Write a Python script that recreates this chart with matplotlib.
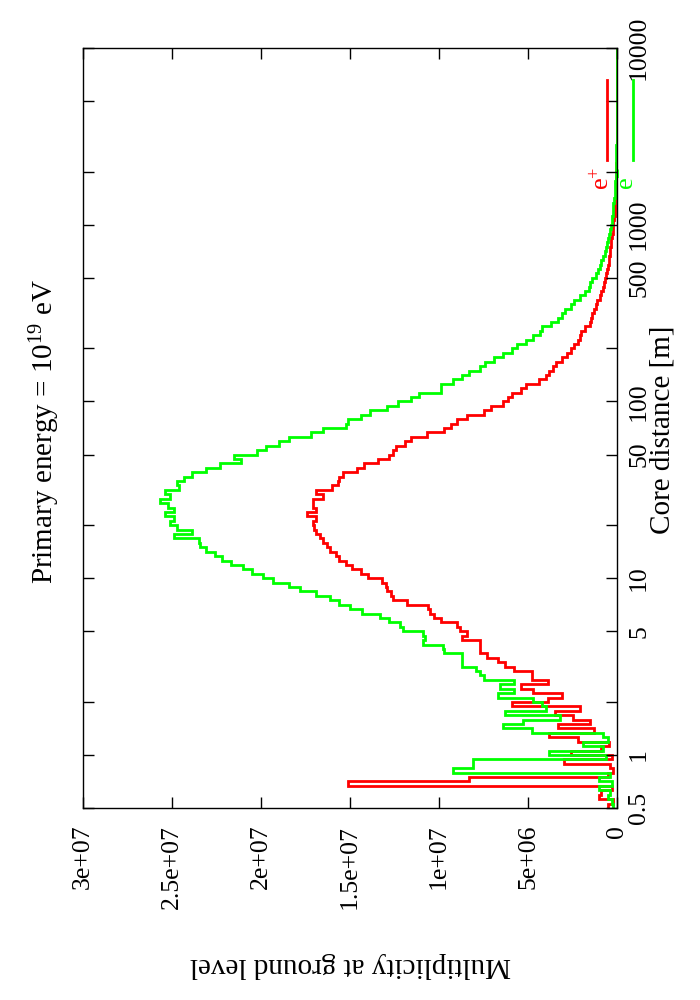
import numpy as np
import matplotlib
matplotlib.use("Agg")
import matplotlib.pyplot as plt
from matplotlib.ticker import NullLocator

plt.rcParams['font.family'] = ['Liberation Serif', 'DejaVu Serif']
plt.rcParams['mathtext.default'] = 'regular'

# ---------------- data ----------------
dist_min, dist_max = 0.5, 10000.0
unit = 1e6  # values below are in units of 1e6 particles

# e- (green), histogram per log-bin from 0.5 m to 10000 m
e_minus = [
    0.2, 0.3, 0.5, 0.4, 1.0, 0.3, 1.0, 0.4, 9.2, 8.1,
    8.1, 0.6, 3.8, 0.8, 1.9, 0.5, 0.8, 4.8, 6.4, 5.3,
    3.2, 6.3, 4.0, 4.2, 4.7, 6.7, 5.8, 6.6, 5.8, 7.5,
    7.7, 7.9, 8.7, 8.7, 8.7, 9.7, 9.8, 10.9, 10.8, 10.9,
    12.0, 12.2, 12.8, 13.3, 14.3, 15.0, 15.6, 16.1, 16.9, 17.8,
    18.4, 19.3, 19.9, 20.5, 21.0, 21.7, 22.2, 22.6, 23.1, 23.4,
    23.5, 24.9, 23.9, 24.7, 25.1, 24.9, 25.4, 24.9, 25.2, 25.7,
    25.1, 25.4, 24.6, 24.7, 24.3, 23.9, 23.1, 22.3, 21.1, 21.5,
    20.2, 19.7, 19.0, 18.4, 17.2, 16.5, 15.2, 15.1, 14.4, 13.9,
    12.9, 12.3, 11.6, 11.1, 9.9, 9.9, 9.2, 8.7, 8.3, 7.7,
    7.4, 6.9, 6.4, 5.9, 5.6, 5.1, 4.7, 4.3, 4.2, 3.7,
    3.3, 3.1, 2.9, 2.6, 2.4, 2.1, 1.8, 1.6, 1.5, 1.4,
    1.2, 1.07, 0.95, 0.9, 0.8, 0.67, 0.6, 0.56, 0.5, 0.45,
    0.4, 0.34, 0.3, 0.28, 0.25, 0.22, 0.2, 0.17, 0.14, 0.11,
    0.1, 0.09, 0.08, 0.07, 0.06, 0.05, 0.045, 0.04, 0.035, 0.03,
    0.025, 0.02, 0.018, 0.015, 0.012, 0.01, 0.008, 0.007, 0.006, 0.005,
    0.004, 0.003, 0.003, 0.002, 0.002, 0.001, 0.001, 0.001, 0.001, 0.0005,
    0.0005, 0.0005,
]

# e+ (red)
e_plus = [
    0.5, 0.2, 1.0, 0.9, 0.3, 15.1, 8.3, 0.5, 0.2, 0.4,
    3.0, 0.3, 2.6, 0.9, 0.45, 2.2, 3.8, 1.3, 3.3, 1.5,
    2.5, 3.5, 2.1, 5.9, 3.9, 3.1, 4.7, 5.4, 3.9, 4.8,
    4.8, 5.8, 6.3, 6.7, 7.3, 7.7, 7.7, 7.7, 8.7, 8.4,
    8.8, 9.0, 9.9, 10.3, 10.5, 10.6, 11.8, 12.6, 12.7, 12.9,
    13.0, 13.2, 14.0, 14.4, 14.9, 15.2, 15.6, 15.8, 16.1, 16.3,
    16.5, 16.7, 16.9, 17.0, 17.1, 16.9, 17.4, 16.9, 17.1, 17.1,
    16.5, 16.9, 16.0, 15.7, 15.6, 15.4, 14.6, 14.2, 13.4, 12.8,
    12.6, 12.4, 11.9, 11.6, 10.7, 9.7, 9.3, 9.0, 8.4, 7.5,
    7.1, 6.4, 6.1, 5.9, 5.4, 5.1, 4.4, 4.0, 3.8, 3.6,
    3.4, 3.1, 2.8, 2.6, 2.4, 2.2, 2.1, 2.0, 1.8, 1.5,
    1.45, 1.4, 1.3, 1.2, 1.1, 0.95, 0.9, 0.8, 0.73, 0.67,
    0.6, 0.56, 0.5, 0.47, 0.45, 0.42, 0.39, 0.34, 0.31, 0.28,
    0.25, 0.22, 0.2, 0.17, 0.14, 0.12, 0.1, 0.09, 0.08, 0.07,
    0.06, 0.05, 0.045, 0.04, 0.035, 0.03, 0.025, 0.02, 0.018, 0.015,
    0.012, 0.01, 0.008, 0.007, 0.006, 0.005, 0.004, 0.003, 0.003, 0.002,
    0.002, 0.001, 0.001, 0.001, 0.001, 0.0005, 0.0005, 0.0005, 0.0005, 0.0,
    0.0, 0.0,
]

dist_ticks = [0.5, 1, 2, 5, 10, 20, 50, 100, 200, 500, 1000, 2000, 5000, 10000]
dist_tick_labels = ["0.5", "1", "", "5", "10", "", "50", "100", "", "500", "1000", "", "", "10000"]
mult_ticks = [0, 5e6, 1e7, 1.5e7, 2e7, 2.5e7, 3e7]
mult_tick_labels = ["0", "5e+06", "1e+07", "1.5e+07", "2e+07", "2.5e+07", "3e+07"]
mult_max = 3e7

series_names = ["e$^{+}$", "e$^{-}$"]
series_colors = ["#ff0000", "#00ff00"]

# ---------------- figure ----------------
W, H = 700, 1000
fig = plt.figure(figsize=(W / 100, H / 100), dpi=100)
L, R, T, B = 83, 617, 48, 808
ax = fig.add_axes([L / W, 1 - B / H, (R - L) / W, (B - T) / H])

n = len(e_plus)
edges = np.logspace(np.log10(dist_min), np.log10(dist_max), n + 1)
for vals, col in zip([e_plus, e_minus], series_colors):
    ax.stairs(np.asarray(vals) * unit, edges, orientation='horizontal',
              baseline=None, color=col, lw=2.0)

ax.set_yscale('log')
ax.set_ylim(dist_min, dist_max)
ax.set_xlim(mult_max, 0)
ax.yaxis.set_minor_locator(NullLocator())
ax.set_yticks(dist_ticks)
ax.set_yticklabels(dist_tick_labels, rotation=90, va='center')
ax.set_xticks(mult_ticks)
ax.set_xticklabels(mult_tick_labels, rotation=90)
ax.tick_params(axis='y', which='both', left=True, right=True, labelleft=False,
               labelright=True, direction='in', length=8, width=1, labelsize=18.5, pad=8)
ax.tick_params(axis='x', which='both', top=True, bottom=True, direction='in',
               length=8, width=1, labelsize=18.5, pad=12)
for s in ax.spines.values():
    s.set_linewidth(1.0)

# labels
fig.text(45 / W, 1 - 432 / H, "Primary energy = 10$^{19}$ eV", rotation=90,
         ha='center', va='center', fontsize=21)
fig.text(662 / W, 1 - 430 / H, "Core distance [m]", rotation=90,
         ha='center', va='center', fontsize=21)
fig.text(350 / W, 1 - 965 / H, "Multiplicity at ground level", rotation=180,
         ha='center', va='center', fontsize=21)

# legend (rotated, drawn manually in axes coordinates)
def ax_x(px):
    return (px - L) / (R - L)

def ax_y(py):
    return (B - py) / (B - T)

for k, (name, col) in enumerate(zip(series_names, series_colors)):
    xl = 607 + 26 * k
    ax.plot([ax_x(xl), ax_x(xl)], [ax_y(80), ax_y(160)], color=col, lw=2.0,
            transform=ax.transAxes, clip_on=False)
    ax.text(ax_x(xl - 5), ax_y(167), name, rotation=90, ha='center', va='top',
            color=col, fontsize=19, transform=ax.transAxes, clip_on=False)

fig.savefig("out.png", dpi=100)
